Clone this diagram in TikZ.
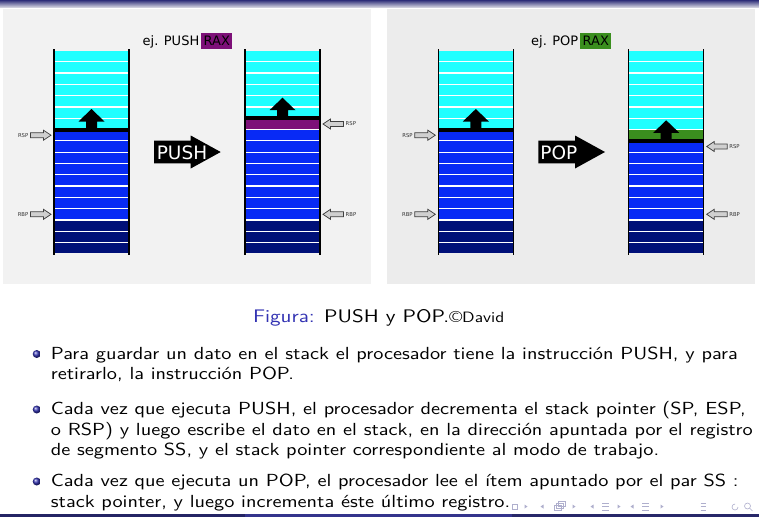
\documentclass[tikz,border=0pt]{standalone}
\usepackage{fontspec}
\newfontfamily\figfont{DejaVu Sans}
\newfontfamily\bodyfont[FakeStretch=1.16]{lmsans10-regular.otf}
\definecolor{cyancell}{RGB}{32,255,255}
\definecolor{bluecell}{RGB}{8,42,245}
\definecolor{navycell}{RGB}{0,16,120}
\definecolor{pushcol}{RGB}{125,16,120}
\definecolor{popcol}{RGB}{58,142,30}
\definecolor{panelA}{RGB}{242,242,242}
\definecolor{panelB}{RGB}{236,236,236}
\definecolor{structure}{RGB}{51,51,179}
\definecolor{navgray}{RGB}{175,175,205}
\definecolor{ptrfill}{RGB}{208,208,208}
\definecolor{barA}{RGB}{36,36,100}
\definecolor{barB}{RGB}{52,52,140}
\definecolor{barC}{RGB}{40,40,105}
\definecolor{topdark}{RGB}{45,45,120}
\definecolor{toplight}{RGB}{218,218,228}

\tikzset{
  sepline/.style={white, line width=1.2pt},
  stackwall/.style={black, line width=1.3pt},
  ptr/.style={fill=ptrfill, draw={black!75}, line width=0.75pt, line join=miter},
  ptrlabel/.style={font=\figfont\fontsize{5.3}{6}\selectfont, inner sep=0pt, text=black!80},
  bigtext/.style={font=\figfont\fontsize{18.5}{20}\selectfont, text=white, inner sep=0pt},
  titletext/.style={font=\figfont\fontsize{13}{15}\selectfont, inner sep=0pt, anchor=base east},
  regbox/.style={font=\figfont\fontsize{13}{15}\selectfont, inner xsep=2.4pt, inner ysep=0pt,
     text height=12.4pt, text depth=3pt, anchor=base west},
  bodyline/.style={font=\bodyfont\fontsize{17.5}{20.5}\selectfont, inner sep=0pt, anchor=base west},
  navsym/.style={navgray, line width=0.6pt},
}

% #1 left x, #2 index of black line, #3 special cell (-1 none), #4 special colour
\newcommand\mystack[4]{%
  \fill[cyancell] (#1,51) rectangle ({#1+75},129.5);
  \fill[bluecell] (#1,129.5) rectangle ({#1+75},219.9);
  \fill[navycell] (#1,219.9) rectangle ({#1+75},253);
  \ifnum#3>-1 \fill[#4] (#1,{50.4+11.3*#3}) rectangle ({#1+75},{50.4+11.3*(#3+1)});\fi
  \foreach \k in {1,...,17} \draw[sepline] (#1,{50.4+11.3*\k}) -- ({#1+75},{50.4+11.3*\k});
  \draw[black, line width=4pt] (#1,{50.4+11.3*#2}) -- ({#1+75},{50.4+11.3*#2});
  \draw[stackwall] (#1,49) -- (#1,255) ({#1+75},49) -- ({#1+75},255);
  \fill[black, shift={({#1+37.5},{50.4+11.3*#2})}] (-5.5,0) -- (-5.5,-8) -- (-13,-8) -- (0,-20.5)
     -- (13,-8) -- (5.5,-8) -- (5.5,0) -- cycle;
}
% pointer pointing right: tip x, y, label, name
\newcommand\ptrR[4]{%
  \draw[ptr] (#1,#2) -- ++(-7.5,-5) -- ++(0,2.5) -- ++(-13,0) -- ++(0,5) -- ++(13,0) -- ++(0,2.5) -- cycle;
  \node[ptrlabel, anchor=east] (#4) at ({#1-22.5},#2) {#3};
}
% pointer pointing left: tip x, y, label, name
\newcommand\ptrL[4]{%
  \draw[ptr] (#1,#2) -- ++(7.5,-5) -- ++(0,2.5) -- ++(13,0) -- ++(0,5) -- ++(-13,0) -- ++(0,2.5) -- cycle;
  \node[ptrlabel, anchor=west] (#4) at ({#1+22.5},#2) {#3};
}
% big arrow: left x, centre y
\newcommand\bigarrow[2]{%
  \fill[black] (#1,{#2-11.3}) -- ++(36.7,0) -- ++(0,-5.2) -- ({#1+66.7},#2) -- ({#1+36.7},{#2+16.5})
     -- ++(0,-5.2) -- (#1,{#2+11.3}) -- cycle;
}

\begin{document}
\begin{tikzpicture}[x=1pt,y=-1pt]
\useasboundingbox (0,0) rectangle (759,517);
\fill[white] (0,0) rectangle (759,517);
% top and bottom bars
\shade[top color=topdark, bottom color=toplight] (0,0) rectangle (759,7.5);
\fill[barA] (0,514) rectangle (245,517);
\fill[barB] (245,514) rectangle (512,517);
\fill[barC] (512,514) rectangle (759,517);

% panels
\fill[panelA] (3,9) rectangle (371,284);
\fill[panelB] (387,9) rectangle (755,284);

% PUSH panel
\node[titletext] (t1) at (199.5,45.7) {ej. PUSH};
\node[regbox, fill=pushcol] (r1) at (201,45.7) {RAX};
\mystack{54}{7}{-1}{none}
\mystack{245}{6}{6}{pushcol}
\ptrR{51}{135.2}{RSP}{rsp1}
\ptrR{51}{214.3}{RBP}{rbp1}
\ptrL{323}{124.0}{RSP}{rsp2}
\ptrL{323}{214.3}{RBP}{rbp2}
\bigarrow{154}{152}
\node[bigtext] (push) at (182,152.5) {PUSH};

% POP panel
\node[titletext] (t2) at (578.5,45.7) {ej. POP};
\node[regbox, fill=popcol] (r2) at (580,45.7) {RAX};
\mystack{438.3}{7}{-1}{none}
\mystack{628.7}{8}{7}{popcol}
\ptrR{435.3}{135.2}{RSP}{rsp3}
\ptrR{435.3}{214.3}{RBP}{rbp3}
\ptrL{706.7}{146.5}{RSP}{rsp4}
\ptrL{706.7}{214.3}{RBP}{rbp4}
\bigarrow{538.3}{152}
\node[bigtext] (pop) at (558.8,152.5) {POP};

% caption
\node[font=\bodyfont\fontsize{18.2}{20.5}\selectfont, inner sep=0pt, anchor=base] (cap) at (378.7,322)
  {{\color{structure}Figura:} PUSH y POP.{\fontsize{16}{18}\selectfont ©}{\fontsize{15}{16}\selectfont David}};

% bullets
\foreach \yy in {359,414.5,486.5} \shade[ball color=structure] (36.7,{\yy-5}) circle (4);
\node[bodyline] (l1) at (50.7,359) {Para guardar un dato en el stack el procesador tiene la instrucción PUSH, y para};
\node[bodyline] (l2) at (50.7,379.5) {retirarlo, la instrucción POP.};
\node[bodyline] (l3) at (50.7,414.5) {Cada vez que ejecuta PUSH, el procesador decrementa el stack pointer (SP, ESP,};
\node[bodyline] (l4) at (50.7,435) {o RSP) y luego escribe el dato en el stack, en la dirección apuntada por el registro};
\node[bodyline] (l5) at (50.7,455.5) {de segmento SS, y el stack pointer correspondiente al modo de trabajo.};
\node[bodyline] (l6) at (50.7,486.5) {Cada vez que ejecuta un POP, el procesador lee el ítem apuntado por el par SS :};
\node[bodyline] (l7) at (50.7,507) {stack pointer, y luego incrementa éste último registro.};

% navigation symbols
\begin{scope}[navsym]
  \draw (512.3,504) rectangle (517.3,509);
  \fill (524.5,504.5) -- (527.5,506.5) -- (524.5,508.5) -- cycle;
  \fill (543.5,504.5) -- (540.5,506.5) -- (543.5,508.5) -- cycle;
  \draw (554,505) rectangle (561,510) (556,503) rectangle (563,508) (558,501.5) rectangle (565,506);
  \fill (572.5,504.5) -- (575.5,506.5) -- (572.5,508.5) -- cycle;
  \fill (593.5,504.5) -- (590.5,506.5) -- (593.5,508.5) -- cycle;
  \draw (602,503) -- (609,503) (602,506.5) -- (609,506.5) (602,510) -- (609,510);
  \fill (617.5,504.5) -- (620.5,506.5) -- (617.5,508.5) -- cycle;
  \fill (633.5,504.5) -- (630.5,506.5) -- (633.5,508.5) -- cycle;
  \draw (642,503) -- (649,503) (642,506.5) -- (649,506.5) (642,510) -- (649,510);
  \fill (660.5,504.5) -- (663.5,506.5) -- (660.5,508.5) -- cycle;
  \draw (700.7,503) -- (705.7,503) (700.7,506.5) -- (705.7,506.5) (700.7,510) -- (705.7,510);
  \draw (738,507) arc (0:270:3) ;
  \draw (747.5,506) circle (3) (749.6,508.1) -- (752.5,511);
\end{scope}
\end{tikzpicture}
\end{document}
